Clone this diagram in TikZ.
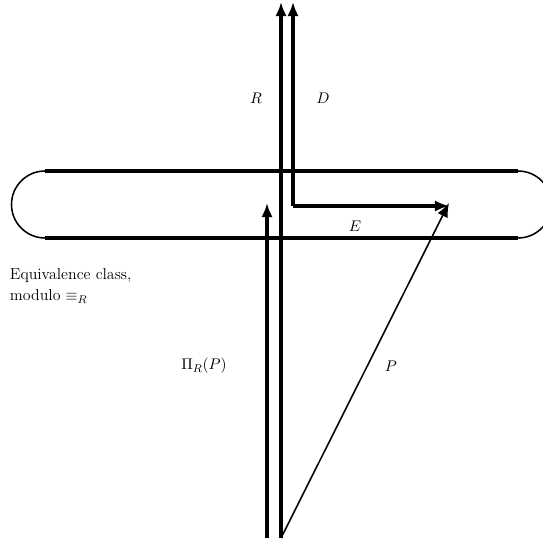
\documentclass[tikz,border=0pt]{standalone}
\usepackage{amsmath,amssymb}
\usepackage{tikz}
\usetikzlibrary{positioning,arrows.meta,calc}

\begin{document}
\begin{tikzpicture}[
  x=0.025cm, y=0.025cm,
  vec/.style={-{Latex[length=10pt,width=8pt]}, line width=2.5pt},
  thinvec/.style={-{Latex[length=10pt,width=8pt]}, line width=1.1pt},
  rim/.style={line width=2.5pt},
  endarc/.style={line width=1.1pt},
  lbl/.style={font=\fontsize{11.3}{15}\selectfont}
]
\useasboundingbox (0,0) rectangle (543,544);
% base points and tips
\coordinate (o)   at (281,6);
\coordinate (rt)  at (281,542);
\coordinate (dc)  at (293,338);
\coordinate (dt)  at (293,542);
\coordinate (et)  at (449,338);
\coordinate (pib) at (267,6);
\coordinate (pit) at (267,341);
\coordinate (pt)  at (449,341);
% equivalence class band
\coordinate (tl) at (45,373);  \coordinate (tr) at (518,373);
\coordinate (bl) at (45,306);  \coordinate (br) at (518,306);
\draw[rim] (tl)--(tr);
\draw[rim] (bl)--(br);
\draw[endarc] (tl) arc[start angle=90, end angle=270, radius=33.5];
\draw[endarc] (br) arc[start angle=-90, end angle=90, radius=33.5];
% vectors
\draw[vec](o)--(rt);
\draw[vec](dc)--(dt);
\draw[vec](dc)--(et);
\draw[vec](pib)--(pit);
\draw[thinvec](o)--(pt);
% labels
\node[lbl] (rl)  at (256,446) {$R$};
\node[lbl] (dl)  at (323,446) {$D$};
\node[lbl] (el)  at (355,318) {$E$};
\node[lbl] (pil) at (204,178) {$\Pi_R(P)$};
\node[lbl] (pl)  at (391,178) {$P$};
\node[lbl, anchor=west, align=left] (eq) at (5,258) {Equivalence class,\\modulo $\equiv_R$};
\end{tikzpicture}
\end{document}
